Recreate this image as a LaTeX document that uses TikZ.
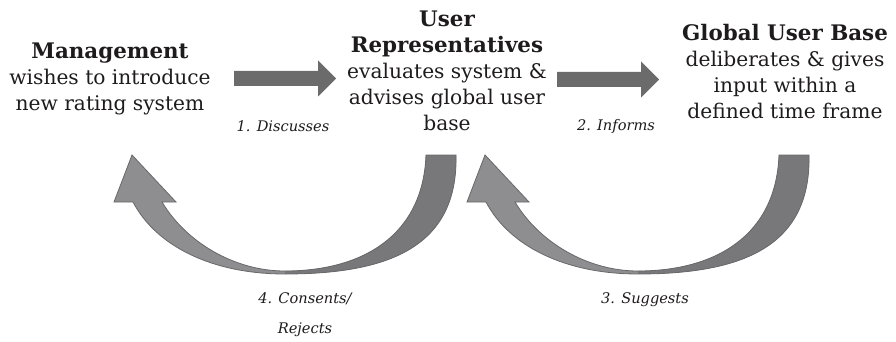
\documentclass[tikz,border=0pt]{standalone}
\usepackage{fontspec}
\setmainfont{DejaVu Serif}
\definecolor{flatgray}{HTML}{6B6B6B}
\definecolor{curvelight}{HTML}{8E8E90}
\definecolor{curvedark}{HTML}{78787A}
\definecolor{curveedge}{HTML}{68686A}
\definecolor{textcol}{HTML}{1E1B1C}
\newcommand{\partyname}[1]{{\fontsize{21.4}{26}\selectfont\bfseries #1}}
\begin{document}
\begin{tikzpicture}[x=1pt,y=-1pt,
  party/.style={anchor=north,align=center,inner sep=0pt,text=textcol,
    font=\fontsize{20.2}{26}\selectfont},
  steplabel/.style={align=center,inner sep=0pt,text=textcol,
    font=\fontsize{14.6}{30}\selectfont\itshape},
  flatarrow/.pic={\fill[flatgray] (0,-7.5) -- (84,-7.5) -- (84,-18) -- (102,0)
    -- (84,18) -- (84,7.5) -- (0,7.5) -- cycle;}]
\useasboundingbox (0,0) rectangle (896,342);

% the three parties
\node[party] (mgmt) at (110,43) {\partyname{Management}\\wishes to introduce\\new rating system};
\node[party] (reps) at (447,11) {\partyname{User}\\\partyname{Representatives}\\evaluates system \&\\advises global user\\base};
\node[party] (base) at (785,24) {\partyname{Global User Base}\\deliberates \& gives\\input within a\\defined time frame};

% forward block arrows
\pic at (234,78.5) {flatarrow};
\pic at (557,79.5) {flatarrow};

% crescent arrows returning to the left
\def\crescent{(426,155) -- (456,155)
  .. controls (458,245) and (392,274) .. (285,274)
  .. controls (212,274) and (156,246) .. (133,202)
  -- (114,202) -- (132,155) -- (176,202) -- (162,202)
  .. controls (186,242) and (234,271) .. (285,271)
  .. controls (362,271) and (423,236) .. (426,155) -- cycle}
\foreach \dx in {0,353} {
  \begin{scope}[xshift=\dx pt]
    \fill[curvelight] \crescent;
    \begin{scope}
      \clip (285,140) rectangle (480,290);
      \fill[curvedark] \crescent;
    \end{scope}
    \draw[curveedge,line width=0.8pt,line join=miter] \crescent;
  \end{scope}
}

% step labels
\node[steplabel] (l1) at (283,126) {1. Discusses};
\node[steplabel] (l2) at (616,126) {2. Informs};
\node[steplabel] (l3) at (645,300) {3. Suggests};
\node[steplabel] (l4) at (305,315) {4. Consents/\\Rejects};
\end{tikzpicture}
\end{document}
